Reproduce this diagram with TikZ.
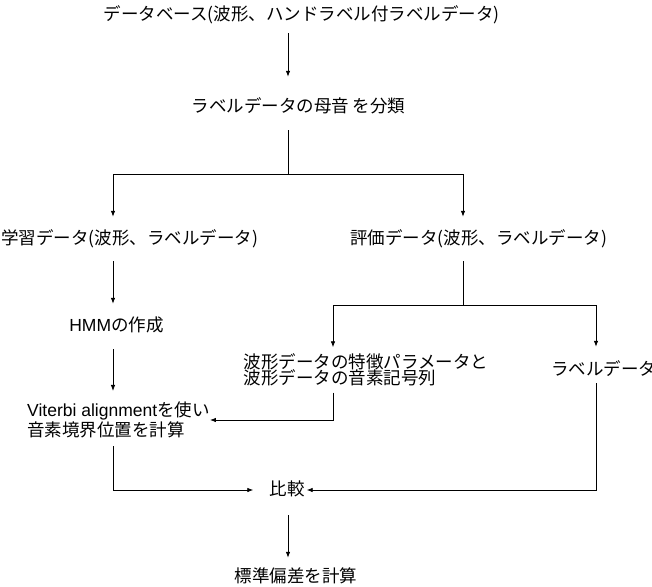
\documentclass[tikz,border=0pt]{standalone}
\usepackage{fontspec}
\setmainfont{Noto Sans CJK JP}
\newfontfamily\latfont{Liberation Sans}
\usepackage{tikz}
\usetikzlibrary{arrows.meta,calc}

\begin{document}
\begin{tikzpicture}[x=1pt,y=-1pt]
  \tikzset{stage/.style={inner sep=0pt,font=\fontsize{17.5}{19}\selectfont,text height=13pt,text depth=3pt}}
  \tikzset{twoline/.style={inner sep=0pt,align=left,font=\fontsize{17.5}{16.5}\selectfont}}
  \tikzset{flow/.style={-{Latex[length=6pt,width=4.5pt]},line width=0.8pt}}
  \tikzset{wire/.style={line width=0.8pt}}
  \useasboundingbox (0,0) rectangle (652,586);

  \coordinate (spine) at (288,0);
  \coordinate (lcol) at (113,0);
  \coordinate (rcol) at (463,0);
  \coordinate (fcol) at (333,0);
  \coordinate (bcol) at (596,0);
  \coordinate (split) at (288,174);
  \coordinate (fork) at (463,305);

  \node[stage] (db) at (301.5,16) {データベース(波形、ハンドラベル付ラベルデータ)};
  \node[stage] (cls) at (298.5,107) {ラベルデータの母音 を分類};
  \node[stage,anchor=west] (train) at (1,239) {学習データ(波形、ラベルデータ)};
  \node[stage] (eval) at (478.5,239) {評価データ(波形、ラベルデータ)};
  \node[stage] (hmm) at (116.5,326) {{\latfont HMM}の作成};
  \node[twoline] (feat) at (366,370) {波形データの特徴パラメータと\\波形データの音素記号列};
  \node[stage,anchor=west] (lab) at (551,370) {ラベルデータ};
  \node[twoline,anchor=west] (vit) at (27,420) {{\latfont Viterbi alignment}を使い\\音素境界位置を計算};
  \node[stage] (cmp) at (287,490) {比較};
  \node[stage] (std) at (296,577) {標準偏差を計算};

  \draw[flow,shorten <=9pt,shorten >=22pt] (db.south -| spine) -- (cls.north -| spine);
  \draw[wire,shorten <=15pt] (cls.south -| spine) -- (split);
  \draw[flow,shorten >=14pt] (split) -| (train.north -| lcol);
  \draw[flow,shorten >=14pt] (split) -| (eval.north -| rcol);

  \draw[flow,shorten <=14pt,shorten >=14pt] (train.south -| lcol) -- (hmm.north -| lcol);
  \draw[wire,shorten <=14pt] (eval.south -| rcol) -- (fork);
  \draw[flow,shorten >=6pt] (fork) -| (feat.north -| fcol);
  \draw[flow,shorten >=15pt] (fork) -| (lab.north -| bcol);

  \draw[flow,shorten <=15pt,shorten >=11pt] (hmm.south -| lcol) -- (vit.north -| lcol);
  \draw[flow,shorten <=6pt] (feat.south -| fcol) |- (vit.east);
  \draw[flow,shorten <=8pt,shorten >=16pt] (vit.south -| lcol) |- (cmp.west);
  \draw[flow,shorten <=5pt,shorten >=2pt] (lab.south -| bcol) |- (cmp.east);
  \draw[flow,shorten <=17pt,shorten >=11pt] (cmp.south -| spine) -- (std.north -| spine);
\end{tikzpicture}
\end{document}
